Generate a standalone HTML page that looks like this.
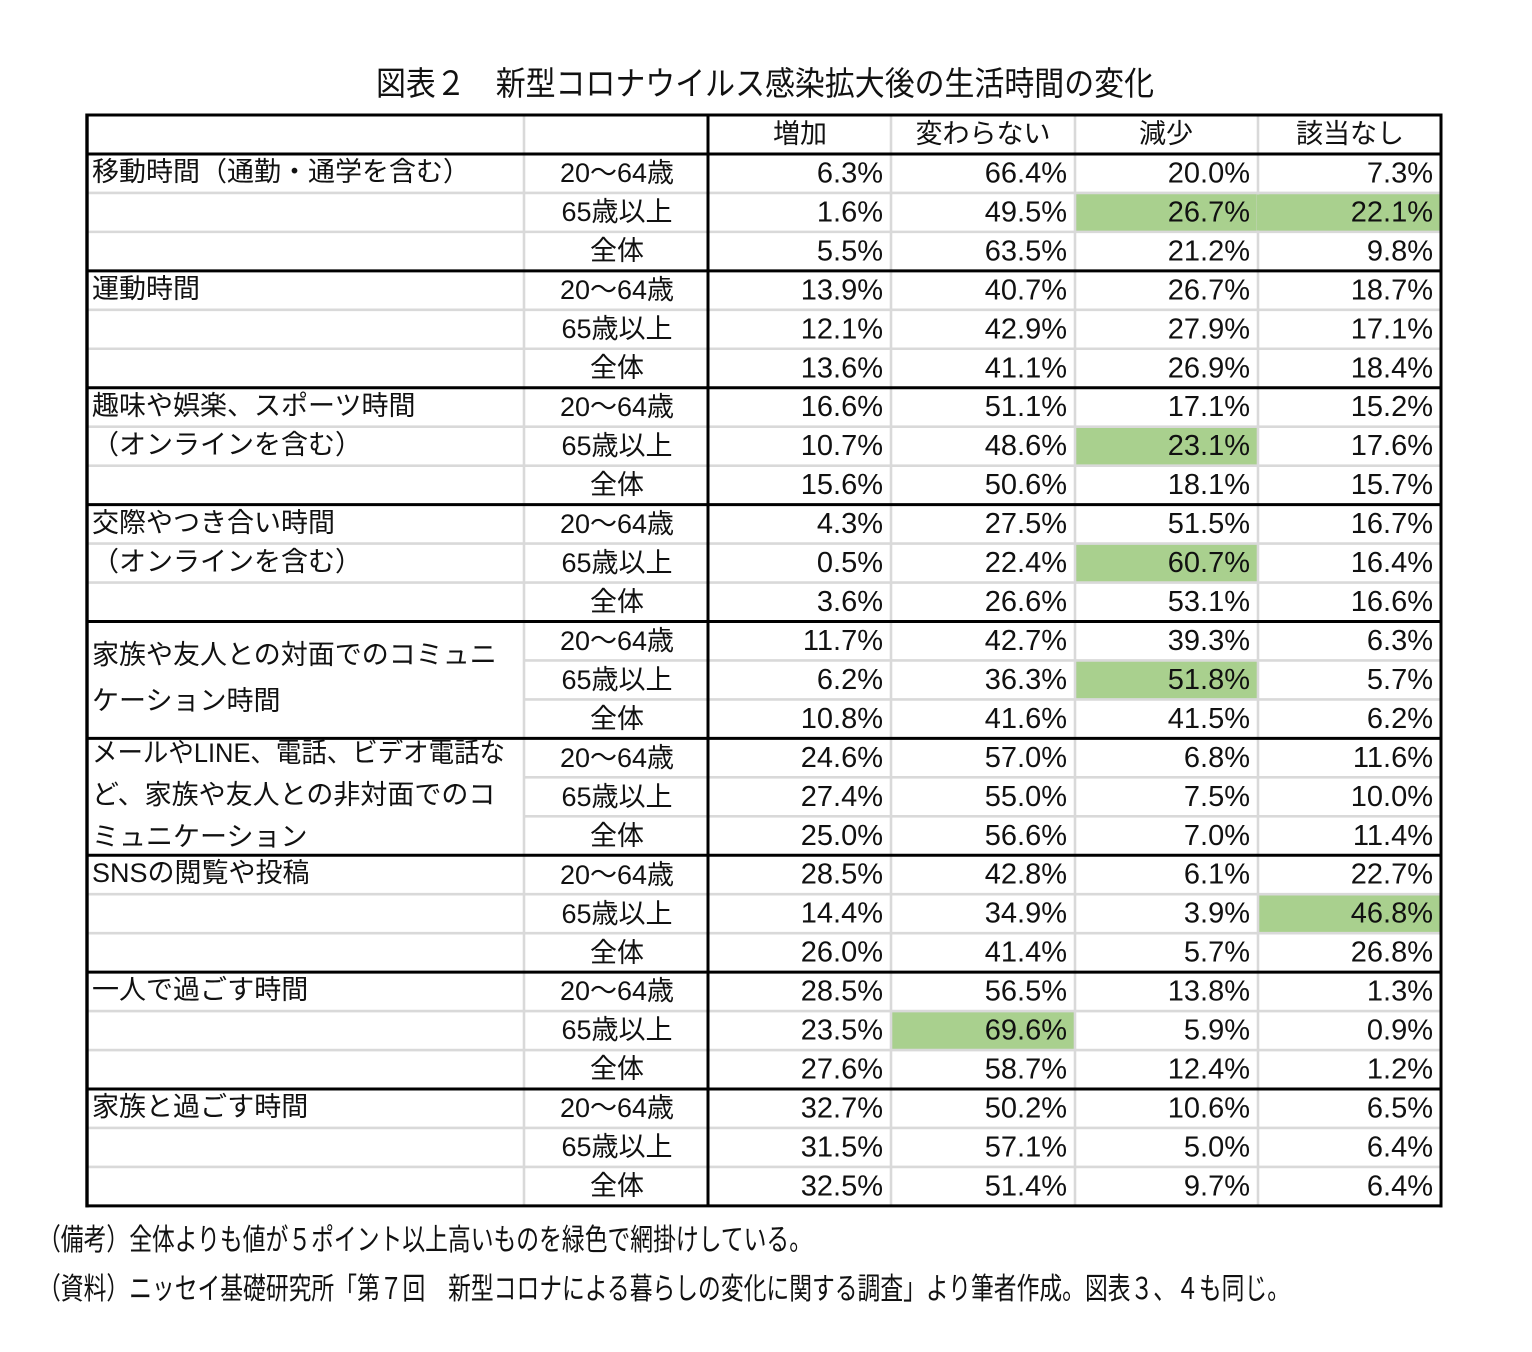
<!DOCTYPE html>
<html lang="ja">
<head>
<meta charset="utf-8">
<style>
  html, body { margin: 0; padding: 0; background: #fff; }
  svg { display: block; }
  .t { font-family: "Liberation Sans", "Noto Sans CJK JP", sans-serif; fill: #111; }
  .n { font-size: 29px; text-anchor: end; }
  .lab { font-size: 27px; }
  .c2 { font-size: 27px; text-anchor: middle; }
  .hd { font-size: 27px; text-anchor: middle; }
  .jp { font-family: "Noto Sans CJK JP", sans-serif; fill: #111; }
</style>
</head>
<body>
<svg width="1532" height="1352" viewBox="0 0 1532 1352" xmlns="http://www.w3.org/2000/svg">
  <rect x="0" y="0" width="1532" height="1352" fill="#fff"/>

  <!-- Title -->
  <text class="jp" x="376" y="95" font-size="33" textLength="778" lengthAdjust="spacingAndGlyphs">図表２　新型コロナウイルス感染拡大後の生活時間の変化</text>

  <!-- Green cells -->
  <g fill="#a9d08e">
    <rect x="1075" y="192.92" width="183" height="38.96"/>
    <rect x="1258" y="192.92" width="183" height="38.96"/>
    <rect x="1075" y="426.68" width="183" height="38.96"/>
    <rect x="1075" y="543.56" width="183" height="38.96"/>
    <rect x="1075" y="660.44" width="183" height="38.96"/>
    <rect x="1258" y="894.2" width="183" height="38.96"/>
    <rect x="891" y="1011.08" width="184" height="38.96"/>
  </g>

  <!-- Gray horizontal lines -->
  <g stroke="#d9d9d9" stroke-width="2.6">
    <line x1="87" x2="1441" y1="192.92" y2="192.92"/>
    <line x1="87" x2="1441" y1="231.88" y2="231.88"/>
    <line x1="87" x2="1441" y1="309.8" y2="309.8"/>
    <line x1="87" x2="1441" y1="348.76" y2="348.76"/>
    <line x1="87" x2="1441" y1="426.68" y2="426.68"/>
    <line x1="87" x2="1441" y1="465.64" y2="465.64"/>
    <line x1="87" x2="1441" y1="543.56" y2="543.56"/>
    <line x1="87" x2="1441" y1="582.52" y2="582.52"/>
    <line x1="524" x2="1441" y1="660.44" y2="660.44"/>
    <line x1="524" x2="1441" y1="699.4" y2="699.4"/>
    <line x1="524" x2="1441" y1="777.32" y2="777.32"/>
    <line x1="524" x2="1441" y1="816.28" y2="816.28"/>
    <line x1="87" x2="1441" y1="894.2" y2="894.2"/>
    <line x1="87" x2="1441" y1="933.16" y2="933.16"/>
    <line x1="87" x2="1441" y1="1011.08" y2="1011.08"/>
    <line x1="87" x2="1441" y1="1050.04" y2="1050.04"/>
    <line x1="87" x2="1441" y1="1127.96" y2="1127.96"/>
    <line x1="87" x2="1441" y1="1166.92" y2="1166.92"/>
  </g>
  <!-- Gray vertical lines -->
  <g stroke="#d9d9d9" stroke-width="2.6">
    <line x1="524" x2="524" y1="115" y2="1206"/>
    <line x1="891" x2="891" y1="115" y2="1206"/>
    <line x1="1075" x2="1075" y1="115" y2="1206"/>
    <line x1="1258" x2="1258" y1="115" y2="1206"/>
  </g>
  <!-- Re-draw green over gray verticals inside green cells -->
  <g fill="#a9d08e">
    <rect x="1076.5" y="194.5" width="180" height="36"/>
    <rect x="1257" y="194.5" width="182" height="36"/>
  </g>

  <!-- Black lines -->
  <g stroke="#000" stroke-width="3">
    <line x1="85.5" x2="1442.5" y1="115" y2="115"/>
    <line x1="87" x2="1441" y1="153.96" y2="153.96"/>
    <line x1="87" x2="1441" y1="270.84" y2="270.84"/>
    <line x1="87" x2="1441" y1="387.72" y2="387.72"/>
    <line x1="87" x2="1441" y1="504.6" y2="504.6"/>
    <line x1="87" x2="1441" y1="621.48" y2="621.48"/>
    <line x1="87" x2="1441" y1="738.36" y2="738.36"/>
    <line x1="87" x2="1441" y1="855.24" y2="855.24"/>
    <line x1="87" x2="1441" y1="972.12" y2="972.12"/>
    <line x1="87" x2="1441" y1="1089" y2="1089"/>
    <line x1="85.5" x2="1442.5" y1="1205.88" y2="1205.88"/>
    <line x1="708" x2="708" y1="115" y2="1206"/>
    <line x1="1441" x2="1441" y1="113.5" y2="1207.4"/>
  </g>
  <line x1="87" x2="87" y1="113.5" y2="1207.4" stroke="#000" stroke-width="3.4"/>

  <!-- Header -->
  <g class="t hd">
    <text x="800" y="143">増加</text>
    <text x="983" y="143">変わらない</text>
    <text x="1166" y="143">減少</text>
    <text x="1350" y="143">該当なし</text>
  </g>

  <!-- Column 1 labels -->
  <g class="t lab">
    <text x="92" y="181">移動時間（通勤・通学を含む）</text>
    <text x="92" y="298">運動時間</text>
    <text x="92" y="415">趣味や娯楽、スポーツ時間</text>
    <text x="92" y="454">（オンラインを含む）</text>
    <text x="92" y="532">交際やつき合い時間</text>
    <text x="92" y="571">（オンラインを含む）</text>
    <text x="92" y="664">家族や友人との対面でのコミュニ</text>
    <text x="92" y="710">ケーション時間</text>
    <text x="92" y="762" textLength="413" lengthAdjust="spacingAndGlyphs">メールやLINE、電話、ビデオ電話な</text>
    <text x="92" y="804">ど、家族や友人との非対面でのコ</text>
    <text x="92" y="846">ミュニケーション</text>
    <text x="92" y="882">SNSの閲覧や投稿</text>
    <text x="92" y="999">一人で過ごす時間</text>
    <text x="92" y="1116">家族と過ごす時間</text>
  </g>

  <!-- Column 2 labels -->
  <g class="t c2">
    <text x="617" y="182">20～64歳</text><text x="617" y="221">65歳以上</text><text x="617" y="260">全体</text>
    <text x="617" y="299">20～64歳</text><text x="617" y="338">65歳以上</text><text x="617" y="377">全体</text>
    <text x="617" y="416">20～64歳</text><text x="617" y="455">65歳以上</text><text x="617" y="494">全体</text>
    <text x="617" y="533">20～64歳</text><text x="617" y="572">65歳以上</text><text x="617" y="611">全体</text>
    <text x="617" y="650">20～64歳</text><text x="617" y="689">65歳以上</text><text x="617" y="728">全体</text>
    <text x="617" y="767">20～64歳</text><text x="617" y="806">65歳以上</text><text x="617" y="845">全体</text>
    <text x="617" y="884">20～64歳</text><text x="617" y="923">65歳以上</text><text x="617" y="962">全体</text>
    <text x="617" y="1000">20～64歳</text><text x="617" y="1039">65歳以上</text><text x="617" y="1078">全体</text>
    <text x="617" y="1117">20～64歳</text><text x="617" y="1156">65歳以上</text><text x="617" y="1195">全体</text>
  </g>

  <!-- Numbers -->
  <g class="t n">
    <text x="883" y="182.5">6.3%</text><text x="1067" y="182.5">66.4%</text><text x="1250" y="182.5">20.0%</text><text x="1433" y="182.5">7.3%</text>
    <text x="883" y="221.4">1.6%</text><text x="1067" y="221.4">49.5%</text><text x="1250" y="221.4">26.7%</text><text x="1433" y="221.4">22.1%</text>
    <text x="883" y="260.4">5.5%</text><text x="1067" y="260.4">63.5%</text><text x="1250" y="260.4">21.2%</text><text x="1433" y="260.4">9.8%</text>

    <text x="883" y="299.3">13.9%</text><text x="1067" y="299.3">40.7%</text><text x="1250" y="299.3">26.7%</text><text x="1433" y="299.3">18.7%</text>
    <text x="883" y="338.3">12.1%</text><text x="1067" y="338.3">42.9%</text><text x="1250" y="338.3">27.9%</text><text x="1433" y="338.3">17.1%</text>
    <text x="883" y="377.3">13.6%</text><text x="1067" y="377.3">41.1%</text><text x="1250" y="377.3">26.9%</text><text x="1433" y="377.3">18.4%</text>

    <text x="883" y="416.2">16.6%</text><text x="1067" y="416.2">51.1%</text><text x="1250" y="416.2">17.1%</text><text x="1433" y="416.2">15.2%</text>
    <text x="883" y="455.2">10.7%</text><text x="1067" y="455.2">48.6%</text><text x="1250" y="455.2">23.1%</text><text x="1433" y="455.2">17.6%</text>
    <text x="883" y="494.1">15.6%</text><text x="1067" y="494.1">50.6%</text><text x="1250" y="494.1">18.1%</text><text x="1433" y="494.1">15.7%</text>

    <text x="883" y="533.1">4.3%</text><text x="1067" y="533.1">27.5%</text><text x="1250" y="533.1">51.5%</text><text x="1433" y="533.1">16.7%</text>
    <text x="883" y="572.1">0.5%</text><text x="1067" y="572.1">22.4%</text><text x="1250" y="572.1">60.7%</text><text x="1433" y="572.1">16.4%</text>
    <text x="883" y="611">3.6%</text><text x="1067" y="611">26.6%</text><text x="1250" y="611">53.1%</text><text x="1433" y="611">16.6%</text>

    <text x="883" y="650">11.7%</text><text x="1067" y="650">42.7%</text><text x="1250" y="650">39.3%</text><text x="1433" y="650">6.3%</text>
    <text x="883" y="688.9">6.2%</text><text x="1067" y="688.9">36.3%</text><text x="1250" y="688.9">51.8%</text><text x="1433" y="688.9">5.7%</text>
    <text x="883" y="727.9">10.8%</text><text x="1067" y="727.9">41.6%</text><text x="1250" y="727.9">41.5%</text><text x="1433" y="727.9">6.2%</text>

    <text x="883" y="766.9">24.6%</text><text x="1067" y="766.9">57.0%</text><text x="1250" y="766.9">6.8%</text><text x="1433" y="766.9">11.6%</text>
    <text x="883" y="805.8">27.4%</text><text x="1067" y="805.8">55.0%</text><text x="1250" y="805.8">7.5%</text><text x="1433" y="805.8">10.0%</text>
    <text x="883" y="844.8">25.0%</text><text x="1067" y="844.8">56.6%</text><text x="1250" y="844.8">7.0%</text><text x="1433" y="844.8">11.4%</text>

    <text x="883" y="883.7">28.5%</text><text x="1067" y="883.7">42.8%</text><text x="1250" y="883.7">6.1%</text><text x="1433" y="883.7">22.7%</text>
    <text x="883" y="922.7">14.4%</text><text x="1067" y="922.7">34.9%</text><text x="1250" y="922.7">3.9%</text><text x="1433" y="922.7">46.8%</text>
    <text x="883" y="961.7">26.0%</text><text x="1067" y="961.7">41.4%</text><text x="1250" y="961.7">5.7%</text><text x="1433" y="961.7">26.8%</text>

    <text x="883" y="1000.6">28.5%</text><text x="1067" y="1000.6">56.5%</text><text x="1250" y="1000.6">13.8%</text><text x="1433" y="1000.6">1.3%</text>
    <text x="883" y="1039.6">23.5%</text><text x="1067" y="1039.6">69.6%</text><text x="1250" y="1039.6">5.9%</text><text x="1433" y="1039.6">0.9%</text>
    <text x="883" y="1078.5">27.6%</text><text x="1067" y="1078.5">58.7%</text><text x="1250" y="1078.5">12.4%</text><text x="1433" y="1078.5">1.2%</text>

    <text x="883" y="1117.5">32.7%</text><text x="1067" y="1117.5">50.2%</text><text x="1250" y="1117.5">10.6%</text><text x="1433" y="1117.5">6.5%</text>
    <text x="883" y="1156.5">31.5%</text><text x="1067" y="1156.5">57.1%</text><text x="1250" y="1156.5">5.0%</text><text x="1433" y="1156.5">6.4%</text>
    <text x="883" y="1195.4">32.5%</text><text x="1067" y="1195.4">51.4%</text><text x="1250" y="1195.4">9.7%</text><text x="1433" y="1195.4">6.4%</text>
  </g>

  <!-- Notes -->
  <text class="jp" x="38" y="1250" font-size="30" textLength="774" lengthAdjust="spacingAndGlyphs">（備考）全体よりも値が５ポイント以上高いものを緑色で網掛けしている。</text>
  <text class="jp" x="38" y="1299" font-size="30" textLength="1252" lengthAdjust="spacingAndGlyphs">（資料）ニッセイ基礎研究所「第７回　新型コロナによる暮らしの変化に関する調査」より筆者作成。図表３、４も同じ。</text>
</svg>
</body>
</html>
